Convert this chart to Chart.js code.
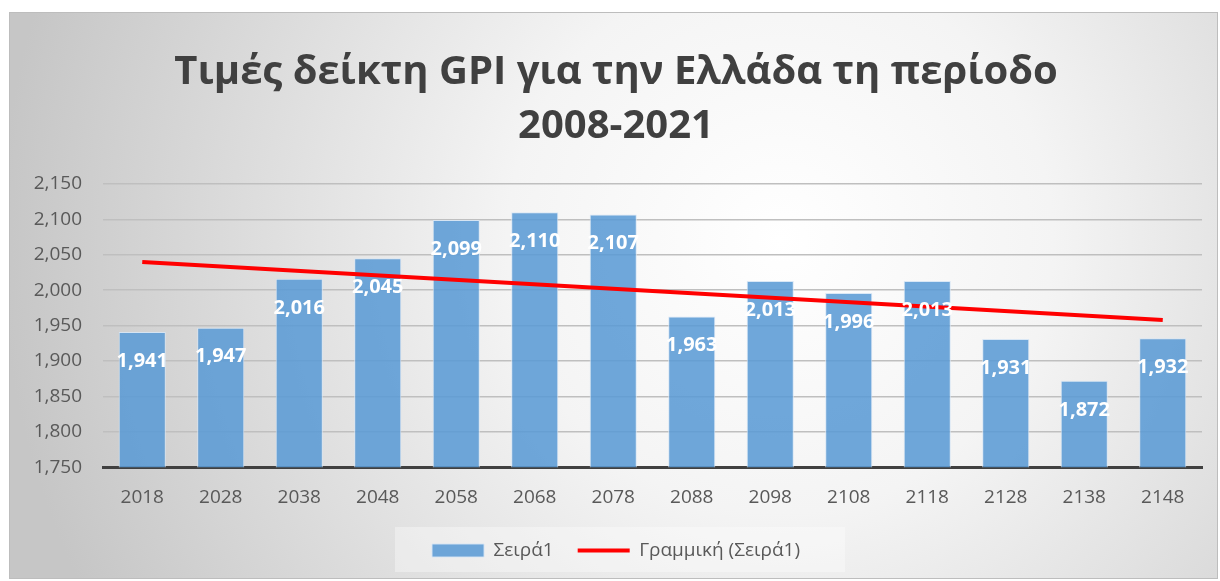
<!DOCTYPE html>
<html>
<head>
<meta charset="utf-8">
<script src="https://cdn.jsdelivr.net/npm/chart.js@4.4.0/dist/chart.umd.min.js"></script>
<style>
  html, body { margin: 0; padding: 0; background: #fff; }
  #wrap { width: 1220px; height: 581px; position: relative; }
</style>
</head>
<body>
<div id="wrap"><canvas id="gpi"></canvas></div>
<script>
// ======= DATA =======
const years = ["2018","2028","2038","2048","2058","2068","2078","2088","2098","2108","2118","2128","2138","2148"];
const gpiValues = [1.941, 1.947, 2.016, 2.045, 2.099, 2.110, 2.107, 1.963, 2.013, 1.996, 2.013, 1.931, 1.872, 1.932];
// trend line ends (middle points left empty)
const trendValues = [2.040, null, null, null, null, null, null, null, null, null, null, null, null, 1.958];
const titleLines = ["Τιμές δείκτη GPI για την Ελλάδα τη περίοδο", "2008-2021"];
const seriesName = "Σειρά1";
const trendName = "Γραμμική (Σειρά1)";

const FONT = "'Open Sans', 'Noto Sans', sans-serif";
const fmt = v => v.toFixed(3).replace(".", ",");

// ======= PLUGINS =======
// grey radial background + frame
const bgPlugin = {
  id: "bg",
  afterLayout(chart){
    // lift the legend a bit, the plot keeps its height
    const lg = chart.legend;
    if (lg) { lg.top -= 11; lg.bottom -= 11; }
  },
  beforeDraw(chart){
    const c = chart.ctx;
    c.save();
    const g = c.createRadialGradient(780, 240, 0, 780, 240, 780);
    g.addColorStop(0, "#ffffff");
    g.addColorStop(0.35, "#f4f4f4");
    g.addColorStop(1, "#c6c6c6");
    c.fillStyle = g;
    c.fillRect(9, 12, 1209, 567);
    c.strokeStyle = "#bdbdbd";
    c.lineWidth = 1;
    c.strokeRect(9.5, 12.5, 1208, 566);
    // faint box behind legend items
    c.fillStyle = "rgba(255,255,255,0.35)";
    c.fillRect(395, 527, 450, 45);
    c.restore();
  }
};

// white value labels inside top of each bar
const labelPlugin = {
  id: "barLabels",
  afterDatasetsDraw(chart){
    const c = chart.ctx;
    const meta = chart.getDatasetMeta(1);
    c.save();
    c.font = "bold 20px " + FONT;
    c.fillStyle = "#ffffff";
    c.textAlign = "center";
    c.textBaseline = "middle";
    meta.data.forEach((bar, i) => {
      c.fillText(fmt(gpiValues[i]), bar.x, bar.y + 29);
    });
    c.restore();
  }
};

// ======= CHART =======
new Chart(document.getElementById("gpi"), {
  data: {
    labels: years,
    datasets: [
      {
        type: "line",
        label: trendName,
        data: trendValues,
        spanGaps: true,
        borderColor: "#ff0000",
        backgroundColor: "#ff0000",
        borderWidth: 4,
        pointRadius: 0,
        pointStyle: "line",
        order: 0
      },
      {
        type: "bar",
        label: seriesName,
        data: gpiValues,
        backgroundColor: "rgba(91,155,213,0.88)",
        borderColor: "rgba(214,230,245,0.9)",
        borderWidth: 1,
        borderSkipped: false,
        categoryPercentage: 1,
        barPercentage: 0.6,
        pointStyle: "rect",
        order: 1
      }
    ]
  },
  options: {
    responsive: true,
    maintainAspectRatio: false,
    animation: false,
    layout: { padding: { left: 30, right: 18, top: 14, bottom: 0 } },
    scales: {
      x: {
        grid: { display: false, drawTicks: false },
        border: { color: "#404040", width: 3 },
        ticks: { color: "#595959", font: { family: FONT, size: 19 }, padding: 19 }
      },
      y: {
        min: 1.75, max: 2.15,
        afterFit: s => { s.width = 73; },
        grid: { color: "#bfbfbf", lineWidth: 1.5, drawTicks: false },
        border: { display: false },
        ticks: {
          stepSize: 0.05,
          color: "#595959",
          font: { family: FONT, size: 19 },
          padding: 21,
          callback: v => fmt(v)
        }
      }
    },
    plugins: {
      title: {
        display: true,
        text: titleLines,
        color: "#404040",
        font: { family: FONT, size: 40, weight: "bold", lineHeight: 1.35 },
        padding: { top: 32, bottom: 30 }
      },
      legend: {
        position: "bottom",
        reverse: true,
        labels: {
          usePointStyle: true,
          pointStyleWidth: 52,
          boxHeight: 13,
          padding: 24,
          color: "#595959",
          font: { family: FONT, size: 19 }
        }
      },
      tooltip: { enabled: false }
    }
  },
  plugins: [bgPlugin, labelPlugin]
});
</script>
</body>
</html>
